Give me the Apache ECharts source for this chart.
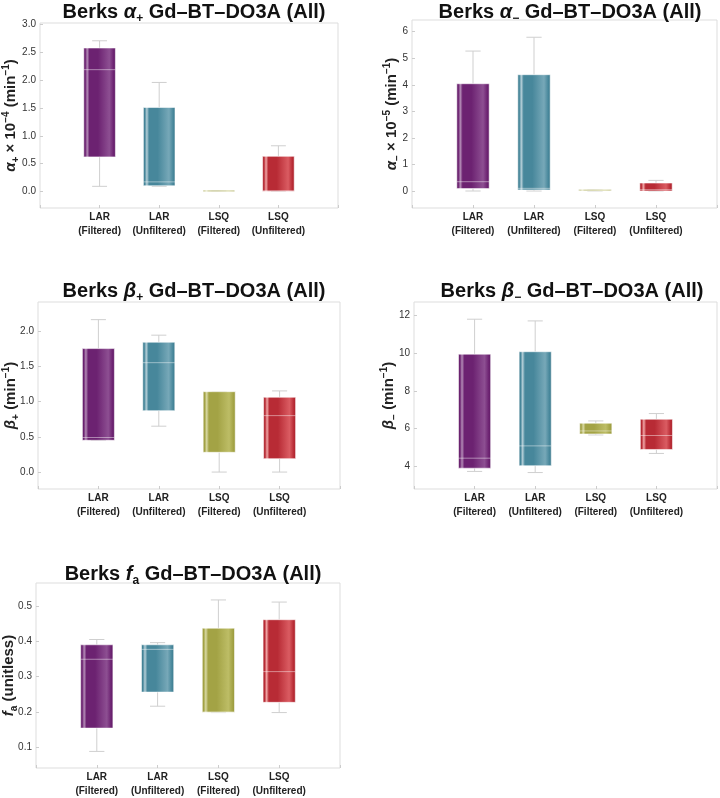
<!DOCTYPE html>
<html>
<head>
<meta charset="utf-8">
<script src="https://cdn.jsdelivr.net/npm/echarts@6/dist/echarts.min.js"></script>
<style>
  html, body { margin: 0; padding: 0; background: #fff; }
  #main { width: 720px; height: 798px; }
</style>
</head>
<body>
<div id="main"></div>
<script>
// categories (blank ends give the side padding of the plot frame)
const categories = ['', 'LAR\n(Filtered)', 'LAR\n(Unfiltered)', 'LSQ\n(Filtered)', 'LSQ\n(Unfiltered)', ''];

// each box: [min, q1, median, q3, max]
const alphaPlus = [
  [0.09, 0.62, 2.19, 2.58, 2.71],
  [0.09, 0.10, 0.17, 1.51, 1.96],
  [0.0, 0.0, 0.002, 0.006, 0.01],
  [0.0, 0.0, 0.01, 0.63, 0.82]
];
const alphaMinus = [
  [0.0, 0.09, 0.35, 4.04, 5.27],
  [0.0, 0.04, 0.10, 4.38, 5.79],
  [0.0, 0.01, 0.02, 0.03, 0.04],
  [0.0, 0.0, 0.05, 0.30, 0.40]
];
const betaPlus = [
  [0.45, 0.45, 0.49, 1.75, 2.16],
  [0.65, 0.87, 1.55, 1.84, 1.94],
  [0.0, 0.28, 1.14, 1.14, 1.14],
  [0.0, 0.19, 0.80, 1.06, 1.15]
];
const betaMinus = [
  [3.74, 3.91, 4.44, 9.94, 11.79],
  [3.68, 4.04, 5.09, 10.07, 11.70],
  [5.67, 5.72, 5.88, 6.29, 6.41],
  [4.69, 4.90, 5.64, 6.50, 6.80]
];
const fa = [
  [0.088, 0.154, 0.349, 0.390, 0.405],
  [0.216, 0.256, 0.377, 0.390, 0.396],
  [0.198, 0.199, 0.199, 0.437, 0.517],
  [0.198, 0.227, 0.314, 0.461, 0.511]
];

// tick labels
const ticksAlphaPlus = [0, 0.5, 1.0, 1.5, 2.0, 2.5, 3.0];
const ticksAlphaMinus = [0, 1, 2, 3, 4, 5, 6];
const ticksBetaPlus = [0, 0.5, 1.0, 1.5, 2.0];
const ticksBetaMinus = [4, 6, 8, 10, 12];
const ticksFa = [0.1, 0.2, 0.3, 0.4, 0.5];

// box shading: [edge, base, highlight, mid]
const shades = [
  ['#5e1a63', '#6c2271', '#b38bb6', '#8d4f92'],
  ['#3a7689', '#47879b', '#b4ced7', '#77a8b8'],
  ['#96963a', '#a3a345', '#d9d9a4', '#bdbd66'],
  ['#a8202a', '#b82b35', '#f0a6a6', '#da5c62']
];

const FONT = 'Liberation Sans, Arial, sans-serif';

function boxFill(s) {
  return {
    type: 'linear', x: 0, y: 0, x2: 1, y2: 0,
    colorStops: [
      { offset: 0, color: s[0] },
      { offset: 0.06, color: s[1] },
      { offset: 0.12, color: s[2] },
      { offset: 0.19, color: s[1] },
      { offset: 0.45, color: s[1] },
      { offset: 0.8, color: s[3] },
      { offset: 0.93, color: s[1] },
      { offset: 1, color: s[0] }
    ]
  };
}

function renderBox(params, api) {
  const x = api.value(0);
  const band = api.size([1, 0])[0];
  const w = band * 0.53;
  const cap = band * 0.25;
  const pMin = api.coord([x, api.value(1)]);
  const pQ1 = api.coord([x, api.value(2)]);
  const pMed = api.coord([x, api.value(3)]);
  const pQ3 = api.coord([x, api.value(4)]);
  const pMax = api.coord([x, api.value(5)]);
  const cx = pQ1[0];
  const wl = { stroke: '#cfcfcf', lineWidth: 1 };
  let top = pQ3[1], h = pQ1[1] - pQ3[1];
  if (h < 1.5) { top -= 0.75; h = 1.5; }
  return {
    type: 'group',
    children: [
      { type: 'line', shape: { x1: cx, y1: pMax[1], x2: cx, y2: pQ3[1] }, style: wl },
      { type: 'line', shape: { x1: cx, y1: pQ1[1], x2: cx, y2: pMin[1] }, style: wl },
      { type: 'line', shape: { x1: cx - cap / 2, y1: pMax[1], x2: cx + cap / 2, y2: pMax[1] }, style: wl },
      { type: 'line', shape: { x1: cx - cap / 2, y1: pMin[1], x2: cx + cap / 2, y2: pMin[1] }, style: wl },
      {
        type: 'rect', shape: { x: cx - w / 2, y: top, width: w, height: h },
        style: { fill: boxFill(shades[params.dataIndex]), stroke: 'rgba(255,255,255,0.55)', lineWidth: 1 }
      },
      {
        type: 'line', shape: { x1: cx - w / 2, y1: pMed[1], x2: cx + w / 2, y2: pMed[1] },
        style: { stroke: 'rgba(255,255,255,0.45)', lineWidth: 1 }
      }
    ]
  };
}

const richTitle = {
  b: { fontFamily: FONT, fontWeight: 'bold', fontSize: 20, color: '#111' },
  i: { fontFamily: FONT, fontWeight: 'bold', fontStyle: 'italic', fontSize: 20, color: '#111' },
  s: { fontFamily: FONT, fontWeight: 'bold', fontSize: 12, color: '#111', verticalAlign: 'bottom', lineHeight: 26 }
};
const richName = {
  b: { fontFamily: FONT, fontWeight: 'bold', fontSize: 15, color: '#222' },
  i: { fontFamily: FONT, fontWeight: 'bold', fontStyle: 'italic', fontSize: 15, color: '#222' },
  s: { fontFamily: FONT, fontWeight: 'bold', fontSize: 10, color: '#222', verticalAlign: 'bottom', lineHeight: 20 },
  u: { fontFamily: FONT, fontWeight: 'bold', fontSize: 10, color: '#222', verticalAlign: 'top', lineHeight: 20 }
};

const panels = [
  { grid: { left: 40, top: 23, width: 298, height: 185 }, min: -0.30, max: 3.03, ticks: ticksAlphaPlus, dec: 1, data: alphaPlus,
    title: '{b|Berks }{i|α}{s|+}{b| Gd–BT–DO3A (All)}', tx: 189, ty: -6,
    name: '{i|α}{s|+}{b| × 10}{u|−4}{b| (min}{u|−1}{b|)}', gap: 19 },
  { grid: { left: 412, top: 20, width: 306, height: 188 }, min: -0.64, max: 6.44, ticks: ticksAlphaMinus, dec: 0, data: alphaMinus,
    title: '{b|Berks }{i|α}{s|−}{b| Gd–BT–DO3A (All)}', tx: 565, ty: -6,
    name: '{i|α}{s|−}{b| × 10}{u|−5}{b| (min}{u|−1}{b|)}', gap: 10 },
  { grid: { left: 36, top: 302, width: 304, height: 187 }, min: -0.24, max: 2.41, ticks: ticksBetaPlus, dec: 1, data: betaPlus,
    title: '{b|Berks }{i|β}{s|+}{b| Gd–BT–DO3A (All)}', tx: 189, ty: 273,
    name: '{i|β}{s|+}{b| (min}{u|−1}{b|)}', gap: 17 },
  { grid: { left: 414, top: 302, width: 304, height: 187 }, min: 2.81, max: 12.7, ticks: ticksBetaMinus, dec: 0, data: betaMinus,
    title: '{b|Berks }{i|β}{s|−}{b| Gd–BT–DO3A (All)}', tx: 567, ty: 273,
    name: '{i|β}{s|−}{b| (min}{u|−1}{b|)}', gap: 15 },
  { grid: { left: 36, top: 583, width: 304, height: 188 }, min: 0.041, max: 0.565, ticks: ticksFa, dec: 1, data: fa,
    title: '{b|Berks }{i|f}{s|a}{b| Gd–BT–DO3A (All)}', tx: 188, ty: 556,
    name: '{i|f}{s|a}{b| (unitless)}', gap: 17 }
];

const chart = echarts.init(document.getElementById('main'), null, { renderer: 'canvas' });

const option = {
  backgroundColor: '#ffffff',
  animation: false,
  title: panels.map(p => ({
    text: p.title, left: p.tx, top: p.ty, textAlign: 'center',
    textStyle: { rich: richTitle }
  })),
  grid: panels.map(p => Object.assign({ show: true, borderColor: '#dddddd', borderWidth: 1 }, p.grid)),
  xAxis: panels.map((p, i) => ({
    type: 'category', gridIndex: i, data: categories, boundaryGap: false,
    axisLine: { show: false, onZero: false },
    axisTick: { show: true, inside: true, length: 3, lineStyle: { color: '#cccccc' } },
    axisLabel: {
      interval: 0, margin: 2, fontFamily: FONT, fontWeight: 'bold', fontSize: 10,
      color: '#222', lineHeight: 14
    },
    splitLine: { show: false }
  })),
  yAxis: panels.map((p, i) => ({
    type: 'value', gridIndex: i, min: p.min, max: p.max,
    axisLine: { show: false },
    axisTick: { show: true, inside: true, length: 3, customValues: p.ticks, lineStyle: { color: '#cccccc' } },
    axisLabel: {
      customValues: p.ticks, margin: 4, fontFamily: FONT, fontSize: 10, color: '#333',
      formatter: v => v.toFixed(p.dec)
    },
    splitLine: { show: false },
    name: p.name, nameLocation: 'middle', nameRotate: 90, nameGap: p.gap,
    nameMoveOverlap: false,
    nameTextStyle: { rich: richName }
  })),
  series: panels.map((p, i) => ({
    type: 'custom', xAxisIndex: i, yAxisIndex: i,
    renderItem: renderBox,
    data: p.data.map((b, k) => [k + 1].concat(b))
  }))
};

chart.setOption(option);
</script>
</body>
</html>
